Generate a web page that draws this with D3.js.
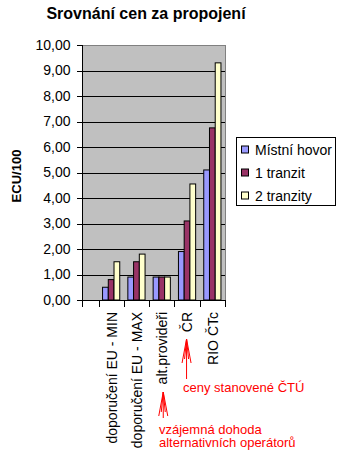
<!DOCTYPE html>
<html>
<head>
<meta charset="utf-8">
<script src="https://cdn.jsdelivr.net/npm/d3@7"></script>
<style>
  body { margin: 0; background: #fff; }
  text { font-family: "Liberation Sans", Arial, sans-serif; }
</style>
</head>
<body>
<script>
'use strict';

// chart data
let categories = ["doporučení EU - MIN", "doporučení EU - MAX", "alt.provideři", "ČR", "RIO ČTc"];
let seriesNames = ["Místní hovor", "1 tranzit", "2 tranzity"];
let mistniHovor = [0.5, 0.9, 0.9, 1.9, 5.1];
let tranzit1 = [0.8, 1.5, 0.9, 3.1, 6.75];
let tranzit2 = [1.5, 1.8, 0.9, 4.55, 9.3];
let yTicks = [0, 1, 2, 3, 4, 5, 6, 7, 8, 9, 10];
let yTickLabels = ["0,00", "1,00", "2,00", "3,00", "4,00", "5,00", "6,00", "7,00", "8,00", "9,00", "10,00"];
let colors = ["#9999FF", "#993366", "#FFFFCC"];

(function() {
  let svg = d3.select('body').append('svg')
    .attr('width', 339)
    .attr('height', 454);

  let plotLeft = 82, plotRight = 225, plotTop = 45, plotBottom = 300;
  let firstGap = 16.5; // empty strip before the first category

  let x = d3.scaleBand()
    .domain(categories)
    .range([plotLeft + firstGap, plotRight]);

  let x1 = d3.scaleBand()
    .domain(seriesNames)
    .range([x.bandwidth() * 0.16, x.bandwidth() * 0.84]);

  let y = d3.scaleLinear()
    .domain([0, 10])
    .range([plotBottom, plotTop]);

  // plot background
  svg.append('rect')
    .attr('x', plotLeft)
    .attr('y', plotTop)
    .attr('width', plotRight - plotLeft)
    .attr('height', plotBottom - plotTop)
    .attr('fill', '#C0C0C0');

  // grid lines
  svg.append('g')
    .selectAll('line')
    .data(yTicks.filter((d) => d > 0 && d < 10))
    .enter()
    .append('line')
      .attr('x1', plotLeft)
      .attr('x2', plotRight)
      .attr('y1', (d) => Math.round(y(d)) + 0.5)
      .attr('y2', (d) => Math.round(y(d)) + 0.5)
      .attr('stroke', '#000')
      .attr('shape-rendering', 'crispEdges');

  // plot border top/right
  svg.append('path')
    .attr('d', `M${plotLeft},${plotTop + 0.5}H${plotRight + 0.5}V${plotBottom}`)
    .attr('fill', 'none')
    .attr('stroke', '#808080')
    .attr('shape-rendering', 'crispEdges');

  // bars
  let rows = categories.map((c, i) => ({
    cat: c,
    vals: [mistniHovor[i], tranzit1[i], tranzit2[i]]
  }));

  let groups = svg.append('g')
    .selectAll('g')
    .data(rows)
    .enter()
    .append('g')
      .attr('transform', (d) => `translate(${x(d.cat)},0)`);

  groups.selectAll('rect')
    .data((d) => d.vals.map((v, j) => ({ name: seriesNames[j], v: v, j: j })))
    .enter()
    .append('rect')
      .attr('x', (d) => x1(d.name))
      .attr('y', (d) => y(d.v))
      .attr('width', x1.bandwidth())
      .attr('height', (d) => plotBottom - y(d.v))
      .attr('fill', (d) => colors[d.j])
      .attr('stroke', '#000')
      .attr('stroke-width', 1);

  // y axis
  let yAxis = d3.axisLeft(y)
    .tickValues(yTicks)
    .tickSize(6)
    .tickPadding(6)
    .tickFormat((d, i) => yTickLabels[i]);
  let yg = svg.append('g')
    .attr('transform', `translate(${plotLeft + 0.5},0)`)
    .call(yAxis);
  yg.select('.domain').attr('d', `M-6,${plotTop + 0.5}H0V${plotBottom + 0.5}`)
    .attr('shape-rendering', 'crispEdges');
  yg.selectAll('.tick line').attr('shape-rendering', 'crispEdges');
  yg.selectAll('text')
    .style('font-size', '14px')
    .attr('fill', '#000');

  // x axis line and ticks
  let xTickPos = [plotLeft].concat(categories.map((c) => x(c)), [plotRight]);
  svg.append('line')
    .attr('x1', plotLeft)
    .attr('x2', plotRight + 1)
    .attr('y1', plotBottom + 0.5)
    .attr('y2', plotBottom + 0.5)
    .attr('stroke', '#000')
    .attr('shape-rendering', 'crispEdges');
  svg.append('g')
    .selectAll('line')
    .data(xTickPos)
    .enter()
    .append('line')
      .attr('x1', (d) => Math.round(d) + 0.5)
      .attr('x2', (d) => Math.round(d) + 0.5)
      .attr('y1', plotBottom)
      .attr('y2', plotBottom + 7)
      .attr('stroke', '#000')
      .attr('shape-rendering', 'crispEdges');

  // category labels
  svg.append('g')
    .selectAll('text')
    .data(categories)
    .enter()
    .append('text')
      .attr('transform', (d) => `translate(${x(d) + x.bandwidth() / 2 + 0.5}, 312)rotate(-90)`)
      .attr('text-anchor', 'end')
      .attr('dy', '0.35em')
      .style('font-size', '14px')
      .text((d) => d);

  // title
  svg.append('text')
    .attr('x', 146)
    .attr('y', 19)
    .attr('text-anchor', 'middle')
    .style('font-size', '16px')
    .style('font-weight', 'bold')
    .text('Srovnání cen za propojení');

  // y axis title
  svg.append('text')
    .attr('transform', 'translate(16, 176)rotate(-90)')
    .attr('text-anchor', 'middle')
    .attr('dy', '0.35em')
    .style('font-size', '13px')
    .style('font-weight', 'bold')
    .text('ECU/100');

  // legend
  let legend = svg.append('g').attr('transform', 'translate(236.5,137.5)');
  legend.append('rect')
    .attr('width', 99)
    .attr('height', 68)
    .attr('fill', '#fff')
    .attr('stroke', '#000');
  let items = legend.selectAll('.item')
    .data(seriesNames)
    .enter()
    .append('g')
      .attr('transform', (d, i) => `translate(0,${12 + i * 23})`);
  items.append('rect')
    .attr('x', 5)
    .attr('y', -3.5)
    .attr('width', 7)
    .attr('height', 7)
    .attr('fill', (d, i) => colors[i])
    .attr('stroke', '#000');
  items.append('text')
    .attr('x', 18.5)
    .attr('y', 5)
    .style('font-size', '14px')
    .text((d) => d);

  // red notes
  let red = '#FF0000';
  function arrow(cx, tip, bottom) {
    let g = svg.append('g')
      .attr('stroke', red)
      .attr('fill', 'none');
    g.append('line')
      .attr('x1', cx).attr('x2', cx)
      .attr('y1', tip).attr('y2', bottom);
    [[-4.5, 24], [4.5, 24], [-2, 20], [2, 20]].forEach((p) => {
      g.append('line')
        .attr('x1', cx).attr('y1', tip)
        .attr('x2', cx + p[0]).attr('y2', tip + p[1]);
    });
  }
  arrow(x('ČR') + x.bandwidth() / 2 - 0.5, 339, 379);
  arrow(x('alt.provideři') + x.bandwidth() / 2 + 1.5, 392, 418);

  svg.append('text')
    .attr('x', 183)
    .attr('y', 392)
    .attr('fill', red)
    .style('font-size', '13px')
    .text('ceny stanovené ČTÚ');

  svg.append('text')
    .attr('x', 159)
    .attr('y', 433.5)
    .attr('fill', red)
    .style('font-size', '13px')
    .text('vzájemná dohoda');
  svg.append('text')
    .attr('x', 159)
    .attr('y', 447)
    .attr('fill', red)
    .style('font-size', '13px')
    .text('alternativních operátorů');
})();
</script>
</body>
</html>
